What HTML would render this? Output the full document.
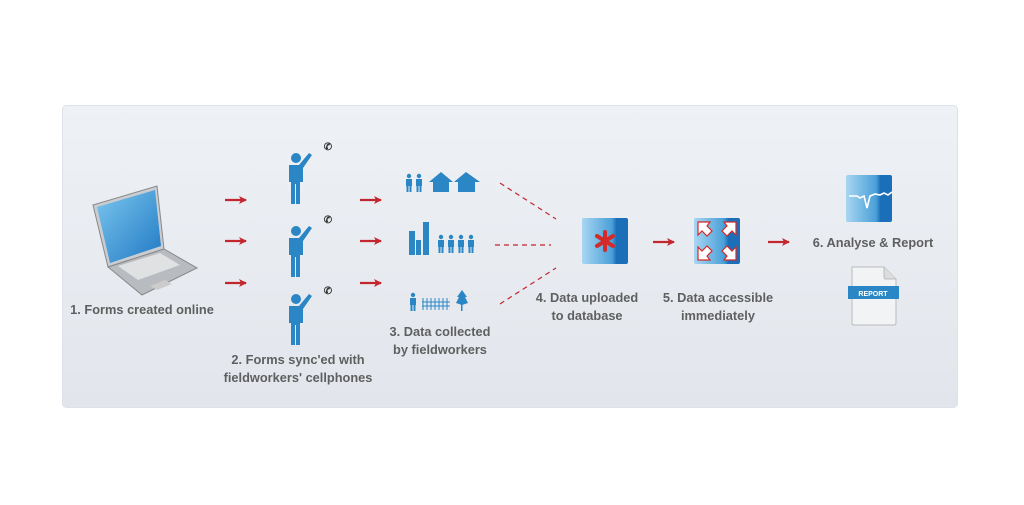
<!DOCTYPE html>
<html><head><meta charset="utf-8"><style>
body{margin:0;background:#fff;}
svg text{font-family:"Liberation Sans",sans-serif;font-weight:bold;fill:#5f5f5f;font-size:12.8px;text-anchor:middle;}
</style></head><body>
<svg width="1024" height="500" viewBox="0 0 1024 500" xmlns="http://www.w3.org/2000/svg">
<defs>
<linearGradient id="bg" x1="0" y1="0" x2="0" y2="1"><stop offset="0" stop-color="#eef1f5"/><stop offset="1" stop-color="#e2e6ec"/></linearGradient>
<linearGradient id="bx" x1="0" y1="0" x2="1" y2="0"><stop offset="0" stop-color="#a9d6f2"/><stop offset="0.65" stop-color="#4aa0d8"/><stop offset="0.75" stop-color="#1a6fb8"/><stop offset="1" stop-color="#1a6fb8"/></linearGradient>
<linearGradient id="scr" x1="0" y1="0" x2="1" y2="1"><stop offset="0" stop-color="#7cc6ee"/><stop offset="1" stop-color="#1f79c4"/></linearGradient>
<marker id="ah" markerWidth="8" markerHeight="8" refX="7" refY="4" orient="auto" markerUnits="userSpaceOnUse"><path d="M0,0 L8,4 L0,8 L2,4z" fill="#c1272d"/></marker>
<g id="person" fill="#2a86c4"><circle cx="0" cy="-20" r="5"/><path d="M-7,-13 h10 l10,-12 l3,2 l-9,13 v14 h-3 v22 h-4 v-20 h-1 v20 h-4 v-22 h-2 z"/></g>
<g id="arr"><line x1="0" y1="0" x2="21" y2="0" stroke="#c1272d" stroke-width="2.2" marker-end="url(#ah)"/></g>
<g id="sm" fill="#2a86c4"><circle cx="0" cy="-8" r="2.2"/><rect x="-3" y="-5" width="6" height="7"/><rect x="-2.5" y="2" width="2" height="6"/><rect x="0.5" y="2" width="2" height="6"/></g>
</defs>
<rect x="62.5" y="105.5" width="895" height="302" rx="4" fill="url(#bg)" stroke="#dde2ea"/>
<g>
<polygon points="93,205 157,186 164,249 108,267" fill="#c9ccd0" stroke="#888"/>
<polygon points="97,207 155,190 161,246 110,263" fill="url(#scr)"/>
<polygon points="108,267 164,249 197,268 142,295" fill="#b8bbbf" stroke="#888"/>
<polygon points="118,266 160,253 180,265 138,280" fill="#dfe1e3"/>
<polygon points="150,286 165,280 172,284 157,290" fill="#ccc"/>
</g>
<text x="142" y="314">1. Forms created online</text>
<use href="#arr" x="225" y="200"/><use href="#arr" x="225" y="241"/><use href="#arr" x="225" y="283"/>
<use href="#person" x="296" y="178"/><use href="#person" x="296" y="251"/><use href="#person" x="296" y="319"/>
<text x="328" y="150" style="font-size:10px;fill:#333">✆</text>
<text x="328" y="223" style="font-size:10px;fill:#333">✆</text>
<text x="328" y="294" style="font-size:10px;fill:#333">✆</text>
<text x="298" y="364">2. Forms sync'ed with</text>
<text x="298" y="382">fieldworkers' cellphones</text>
<use href="#arr" x="360" y="200"/><use href="#arr" x="360" y="241"/><use href="#arr" x="360" y="283"/>
<use href="#sm" x="409" y="184"/><use href="#sm" x="419" y="184"/>
<polygon points="429,182 441,172 453,182 449,182 449,192 433,192 433,182" fill="#2a86c4"/>
<polygon points="454,182 466,172 480,182 475,182 475,192 458,192 458,182" fill="#2a86c4"/>
<g fill="#2a86c4"><rect x="409" y="231" width="6" height="24"/><rect x="416" y="240" width="5" height="15"/><rect x="423" y="222" width="6" height="33"/></g>
<use href="#sm" x="441" y="245"/><use href="#sm" x="451" y="245"/><use href="#sm" x="461" y="245"/><use href="#sm" x="471" y="245"/>
<use href="#sm" x="413" y="303"/>
<g stroke="#2a86c4" stroke-width="1"><line x1="422" y1="302" x2="450" y2="302"/><line x1="422" y1="306" x2="450" y2="306"/>
<line x1="423" y1="298" x2="423" y2="310"/><line x1="427" y1="298" x2="427" y2="310"/><line x1="431" y1="298" x2="431" y2="310"/><line x1="435" y1="298" x2="435" y2="310"/><line x1="439" y1="298" x2="439" y2="310"/><line x1="443" y1="298" x2="443" y2="310"/><line x1="447" y1="298" x2="447" y2="310"/></g>
<polygon points="462,290 467,297 465,297 468,303 462,305 456,303 459,297 457,297" fill="#2a86c4"/><rect x="461" y="304" width="1.5" height="7" fill="#2a86c4"/>
<text x="440" y="336">3. Data collected</text>
<text x="440" y="354">by fieldworkers</text>
<g stroke="#c1272d" stroke-width="1.2" stroke-dasharray="5,4" fill="none">
<line x1="500" y1="183" x2="556" y2="219"/><line x1="495" y1="245" x2="551" y2="245"/><line x1="500" y1="304" x2="556" y2="268"/></g>
<rect x="582" y="218" width="46" height="46" rx="2" fill="url(#bx)"/>
<g stroke="#d42a2a" stroke-width="4" stroke-linecap="round"><line x1="605" y1="232" x2="605" y2="250"/><line x1="597" y1="236" x2="613" y2="246"/><line x1="597" y1="246" x2="613" y2="236"/></g>
<text x="587" y="302">4. Data uploaded</text>
<text x="587" y="320">to database</text>
<use href="#arr" x="653" y="242"/>
<rect x="694" y="218" width="46" height="46" rx="2" fill="url(#bx)"/>
<g fill="#fff" stroke="#d42a2a" stroke-width="1.2">
<polygon points="698,222 710,222 707,226 712,231 707,236 702,231 698,235"/>
<polygon points="736,222 724,222 727,226 722,231 727,236 732,231 736,235"/>
<polygon points="698,260 710,260 707,256 712,251 707,246 702,251 698,247"/>
<polygon points="736,260 724,260 727,256 722,251 727,246 732,251 736,247"/></g>
<text x="718" y="302">5.  Data accessible</text>
<text x="718" y="320">immediately</text>
<use href="#arr" x="768" y="242"/>
<rect x="846" y="175" width="46" height="47" rx="2" fill="url(#bx)"/>
<polyline points="849,196 857,196 860,198 864,196 867,208 870,196 875,194 880,195 884,193 888,195 892,192" fill="none" stroke="#fff" stroke-width="1.6"/>
<text x="873" y="247">6. Analyse &amp; Report</text>
<path d="M852,267 h32 l12,12 v44 q0,2 -2,2 h-40 q-2,0 -2,-2z" fill="#f2f3f4" stroke="#bbb"/>
<path d="M884,267 v10 q0,2 2,2 h10" fill="#ddd" stroke="#bbb"/>
<rect x="848" y="286" width="51" height="13" fill="#2a86c4"/>
<text x="873" y="296" style="font-size:7px;fill:#fff">REPORT</text>
</svg>
</body></html>
